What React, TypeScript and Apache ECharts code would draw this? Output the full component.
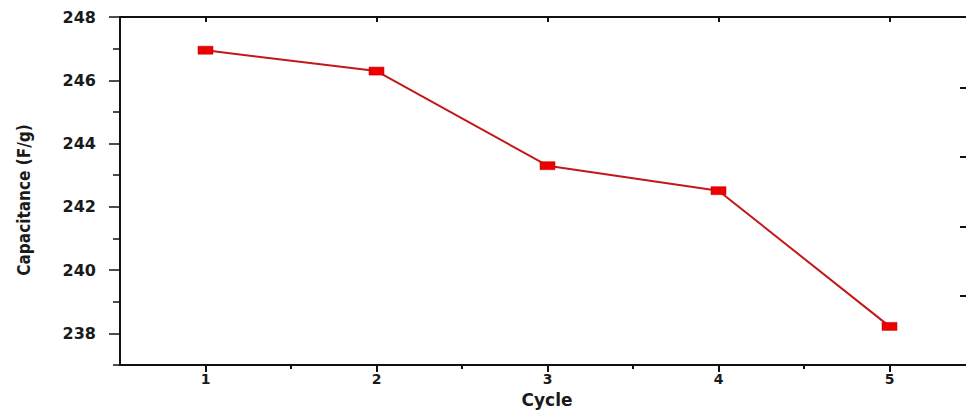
import React, { useEffect, useRef } from "react";
import * as echarts from "echarts";

const cycles = [1, 2, 3, 4, 5];
const capacitance = [246.95, 246.29, 243.3, 242.51, 238.22];
const yMajorTicks = [238, 240, 242, 244, 246, 248];
const yMinorTicks = [237, 239, 241, 243, 245, 247];
const xMajorTicks = [1, 2, 3, 4, 5];
const xMinorTicks = [1.5, 2.5, 3.5, 4.5];
const rightTicks = [1, 2, 3, 4];

const tickFont = { fontFamily: "DejaVu Sans", fontWeight: "bold" as const, fontSize: 16, color: "#1a1a1a" };

export default function App() {
  const ref = useRef<HTMLDivElement>(null);
  useEffect(() => {
    document.body.style.margin = "0";
    const chart = echarts.init(ref.current!, undefined, { renderer: "svg" });
    const grid = { left: 120, top: 17, right: -9, bottom: 45, containLabel: false, outerBoundsMode: "none" };
    chart.setOption({
      animation: false,
      backgroundColor: "#ffffff",
      grid,
      xAxis: [
        {
          type: "value",
          min: 0.5,
          max: 5.5,
          position: "bottom",
          axisLine: { show: true, onZero: false, lineStyle: { color: "#111", width: 2 } },
          axisTick: { show: true, customValues: xMajorTicks, length: 7, lineStyle: { color: "#111", width: 2 } },
          axisLabel: { show: true, customValues: xMajorTicks, margin: 7, ...tickFont, fontSize: 14 },
          splitLine: { show: false },
        },
        {
          type: "value",
          min: 0.5,
          max: 5.5,
          position: "bottom",
          axisLine: { show: false, onZero: false },
          axisTick: { show: true, customValues: xMinorTicks, length: 4, lineStyle: { color: "#111", width: 2 } },
          axisLabel: { show: false },
          splitLine: { show: false },
        },
        {
          type: "value",
          min: 0.5,
          max: 5.5,
          position: "top",
          axisLine: { show: true, onZero: false, lineStyle: { color: "#111", width: 2 } },
          axisTick: { show: true, inside: true, customValues: xMajorTicks, length: 5, lineStyle: { color: "#111", width: 2 } },
          axisLabel: { show: false },
          splitLine: { show: false },
        },
      ],
      yAxis: [
        {
          type: "value",
          min: 237,
          max: 248,
          position: "left",
          axisLine: { show: true, onZero: false, lineStyle: { color: "#111", width: 2 } },
          axisTick: { show: true, customValues: yMajorTicks, length: 11, lineStyle: { color: "#111", width: 1.5 } },
          axisLabel: { show: true, customValues: yMajorTicks, margin: 24, ...tickFont },
          splitLine: { show: false },
        },
        {
          type: "value",
          min: 237,
          max: 248,
          position: "left",
          axisLine: { show: false, onZero: false },
          axisTick: { show: true, customValues: yMinorTicks, length: 7, lineStyle: { color: "#111", width: 1.5 } },
          axisLabel: { show: false },
          splitLine: { show: false },
        },
        {
          type: "value",
          min: 0,
          max: 5.0216,
          position: "right",
          axisLine: { show: true, onZero: false, lineStyle: { color: "#111", width: 2 } },
          axisTick: { show: true, inside: true, customValues: rightTicks, length: 15, lineStyle: { color: "#111", width: 2 } },
          axisLabel: { show: false },
          splitLine: { show: false },
        },
      ],
      graphic: [
        {
          type: "text",
          x: 24,
          y: 200,
          rotation: Math.PI / 2,
          style: {
            text: "Capacitance (F/g)",
            fontFamily: "Liberation Sans Narrow, DejaVu Sans Condensed, Liberation Sans",
            fontWeight: "bold",
            fontSize: 17,
            fill: "#1a1a1a",
            align: "center",
            verticalAlign: "middle",
          },
        },
        {
          type: "text",
          x: 547,
          y: 399.5,
          style: {
            text: "Cycle",
            fontFamily: "DejaVu Sans",
            fontWeight: "bold",
            fontSize: 17,
            fill: "#1a1a1a",
            align: "center",
            verticalAlign: "middle",
          },
        },
      ],
      series: [
        {
          type: "line",
          xAxisIndex: 0,
          yAxisIndex: 0,
          data: cycles.map((c, i) => [c, capacitance[i]]),
          symbol: "rect",
          symbolSize: [15, 8],
          itemStyle: { color: "#ee0000", borderColor: "#c40000", borderWidth: 0.5 },
          lineStyle: { color: "#c21818", width: 2 },
          clip: false,
        },
      ],
    });
    return () => chart.dispose();
  }, []);
  return <div ref={ref} style={{ position: "fixed", left: 0, top: 0, width: 966, height: 410 }} />;
}
